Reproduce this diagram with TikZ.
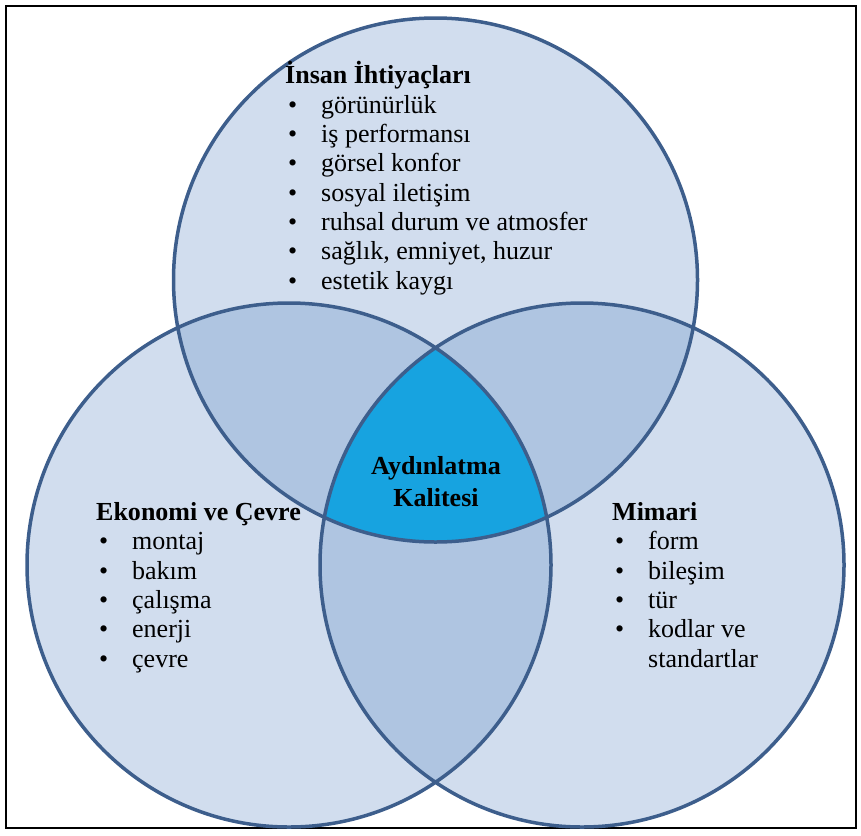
\documentclass[tikz,border=0pt]{standalone}
\usepackage{fontspec}
\setmainfont{Liberation Serif}
\definecolor{lightfill}{HTML}{D1DDEE}
\definecolor{pairfill}{HTML}{AFC5E1}
\definecolor{corefill}{HTML}{17A3E0}
\definecolor{ringline}{HTML}{3D5E8C}
\tikzset{
  ring/.style={draw=ringline, line width=3.5pt},
  listtext/.style={align=left, inner sep=0pt, anchor=base west,
    font=\fontsize{26}{29.3}\selectfont},
  coretext/.style={align=center, inner sep=0pt,
    font=\bfseries\fontsize{26}{32}\selectfont}
}
\newcommand\bul{\makebox[36pt][l]{\hspace{3pt}\textbullet}}
\begin{document}
\begin{tikzpicture}[x=1pt,y=-1pt]
      \useasboundingbox (0,0) rectangle (861,835);
      \draw[line width=2.5pt] (6,6) rectangle (856,828);
      \coordinate (top) at (435.5,280);
      \coordinate (left) at (289,565);
      \coordinate (right) at (582,565);
      % plain circles
      \fill[lightfill] (top) circle (262pt) (left) circle (262pt) (right) circle (262pt);
      % two-way overlaps
      \begin{scope}
        \clip (top) circle (262pt);
        \fill[pairfill] (left) circle (262pt) (right) circle (262pt);
      \end{scope}
      \begin{scope}
        \clip (left) circle (262pt);
        \fill[pairfill] (right) circle (262pt);
      \end{scope}
      % three-way overlap
      \begin{scope}
        \clip (top) circle (262pt);
        \clip (left) circle (262pt);
        \fill[corefill] (right) circle (262pt);
      \end{scope}
      \draw[ring] (top) circle (262pt) (left) circle (262pt) (right) circle (262pt);
      \node[coretext] (core) at (436,482) {Aydınlatma\\Kalitesi};
      % lists (base = last line)
      \node[listtext] (insan) at (285,289) {\textbf{İnsan İhtiyaçları}\\
        \bul görünürlük\\
        \bul iş performansı\\
        \bul görsel konfor\\
        \bul sosyal iletişim\\
        \bul ruhsal durum ve atmosfer\\
        \bul sağlık, emniyet, huzur\\
        \bul estetik kaygı};
      \node[listtext] (ekonomi) at (96,667) {\textbf{Ekonomi ve Çevre}\\
        \bul montaj\\
        \bul bakım\\
        \bul çalışma\\
        \bul enerji\\
        \bul çevre};
      \node[listtext] (mimari) at (612,667) {\textbf{Mimari}\\
        \bul form\\
        \bul bileşim\\
        \bul tür\\
        \bul kodlar ve\\
        \hspace{36pt}standartlar};
    \end{tikzpicture}
\end{document}
